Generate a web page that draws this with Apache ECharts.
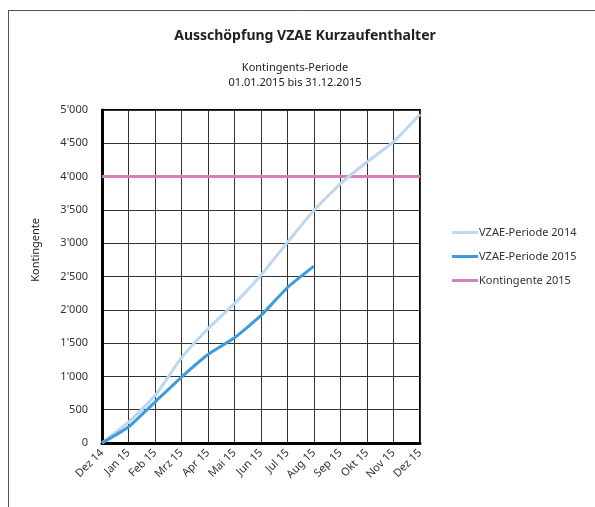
<!DOCTYPE html>
<html>
<head>
<meta charset="utf-8">
<script src="https://cdn.jsdelivr.net/npm/echarts@6/dist/echarts.min.js"></script>
<style>
  html, body { margin: 0; padding: 0; background: #fff; }
  #chart { width: 595px; height: 507px; }
</style>
</head>
<body>
<div id="chart"></div>
<script>
const months = ['Dez 14', 'Jan 15', 'Feb 15', 'Mrz 15', 'Apr 15', 'Mai 15', 'Jun 15',
  'Jul 15', 'Aug 15', 'Sep 15', 'Okt 15', 'Nov 15', 'Dez 15'];
const periode2014 = [0, 315, 710, 1280, 1715, 2095, 2520, 3015, 3495, 3895, 4220, 4520, 4935];
const periode2015 = [0, 240, 615, 990, 1330, 1580, 1915, 2335, 2655];
const kontingent2015 = [4000, 4000, 4000, 4000, 4000, 4000, 4000, 4000, 4000, 4000, 4000, 4000, 4000];

const fontName = '"Noto Sans", "DejaVu Sans", sans-serif';
const textColor = '#333';

// 5000 -> 5'000
function swissNumber(v) {
  return String(v).replace(/\B(?=(\d{3})+(?!\d))/g, "'");
}

const chart = echarts.init(document.getElementById('chart'));
chart.setOption({
  animation: false,
  textStyle: { fontFamily: fontName },
  title: [{
    text: 'Ausschöpfung VZAE Kurzaufenthalter',
    left: 300, top: 24, textAlign: 'center',
    textStyle: { fontSize: 14, fontWeight: 'bold', color: '#222', fontFamily: fontName }
  }, {
    text: 'Kontingents-Periode\n01.01.2015 bis 31.12.2015',
    left: 290, top: 55, textAlign: 'center',
    textStyle: { fontSize: 11, fontWeight: 'normal', color: '#222', lineHeight: 15, fontFamily: fontName }
  }],
  graphic: [
    // outer frame of the sheet
    { type: 'line', shape: { x1: 8.5, y1: 10, x2: 8.5, y2: 507 }, style: { stroke: '#555', lineWidth: 1 } },
    { type: 'line', shape: { x1: 8, y1: 10.5, x2: 595, y2: 10.5 }, style: { stroke: '#555', lineWidth: 1 } },
    {
      type: 'text', left: 30, top: 218, rotation: Math.PI / 2,
      style: { text: 'Kontingente', fontSize: 11, fill: '#222', fontFamily: fontName }
    }
  ],
  legend: {
    orient: 'vertical',
    left: 447, top: 222,
    itemWidth: 26, itemHeight: 3, itemGap: 13,
    icon: 'rect',
    textStyle: { fontSize: 11, color: '#333', padding: [0, 0, 0, -4] },
    data: ['VZAE-Periode 2014', 'VZAE-Periode 2015', 'Kontingente 2015']
  },
  grid: {
    left: 102, right: 175, top: 110, bottom: 64,
    show: true, borderColor: '#000', borderWidth: 2
  },
  xAxis: {
    type: 'category',
    data: months,
    boundaryGap: false,
    axisLine: { lineStyle: { color: '#000', width: 3 } },
    axisTick: { show: false },
    axisLabel: { rotate: 45, fontSize: 11, color: textColor, margin: 8 },
    splitLine: { show: true, lineStyle: { color: '#333', width: 1 } }
  },
  yAxis: {
    type: 'value',
    min: 0, max: 5000, interval: 500,
    axisLine: { show: true, lineStyle: { color: '#000', width: 3 } },
    axisTick: { show: false },
    axisLabel: { fontSize: 11, color: textColor, margin: 14, formatter: swissNumber },
    splitLine: { show: true, lineStyle: { color: '#333', width: 1 } }
  },
  series: [{
    name: 'VZAE-Periode 2014',
    type: 'line',
    data: periode2014,
    symbol: 'none',
    smooth: 0.15,
    z: 3,
    lineStyle: { color: '#bdd7ee', width: 3 },
    itemStyle: { color: '#bdd7ee' }
  }, {
    name: 'VZAE-Periode 2015',
    type: 'line',
    data: periode2015,
    symbol: 'none',
    smooth: 0.15,
    z: 4,
    lineStyle: { color: '#3b9ddd', width: 3 },
    itemStyle: { color: '#3b9ddd' }
  }, {
    name: 'Kontingente 2015',
    type: 'line',
    data: kontingent2015,
    symbol: 'none',
    z: 2,
    lineStyle: { color: '#d67fb9', width: 3 },
    itemStyle: { color: '#d67fb9' }
  }]
});
</script>
</body>
</html>
